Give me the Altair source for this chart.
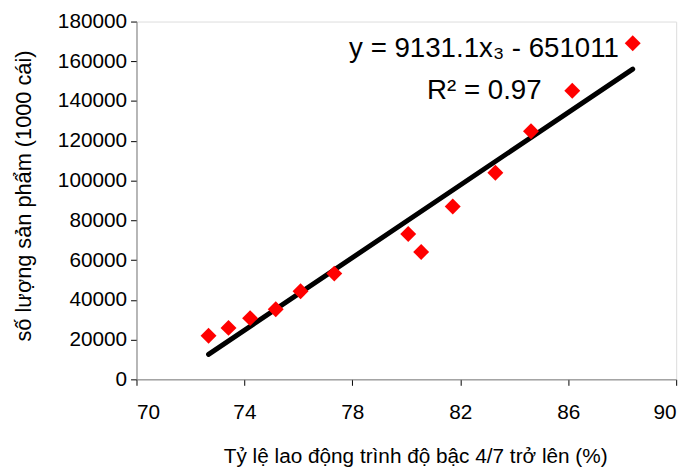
import altair as alt
import pandas as pd

# Data
x_vals = [72.67, 73.41, 74.21, 75.16, 76.08, 77.33, 80.07, 80.55, 81.72, 83.30, 84.62, 86.15, 88.39]
y_vals = [21900, 25900, 30800, 35300, 44300, 53200, 73100, 64100, 87000, 103900, 124800, 145200, 169100]

slope = 9131.1
intercept = -651011
line_x = [min(x_vals), max(x_vals)]

x_ticks = [70, 74, 78, 82, 86, 90]
y_ticks = list(range(0, 180001, 20000))

ann_text = ["y = 9131.1x\u2083 - 651011", "R\u00b2 = 0.97"]
ann_x = [77.88, 80.77]
ann_y = [162100, 141200]

FONT = "Liberation Sans"

pts = pd.DataFrame({"x": x_vals, "y": y_vals})
ln = pd.DataFrame({"x": line_x})
ann = pd.DataFrame({"t": ann_text, "x": ann_x, "y": ann_y})

xscale = alt.Scale(domain=[70, 90], nice=False, zero=False)
yscale = alt.Scale(domain=[0, 180000], nice=False)

common = dict(grid=False, tickSize=6, labelFontSize=21,
              labelFont=FONT, titleFont=FONT, titleFontWeight="normal",
              labelColor="black", titleColor="black",
              domainColor="#808080", tickColor="black")

xaxis = alt.Axis(values=x_ticks, title="Tỷ lệ lao động trình độ bậc 4/7 trở lên (%)",
                 labelPadding=17, titleX=282, titleY=84, titleBaseline="alphabetic",
                 titleAlign="center", titleFontSize=21, **common)
yaxis = alt.Axis(values=y_ticks, title="số lượng sản phẩm (1000 cái)", format="d",
                 labelPadding=4, titleX=-107, titleY=176, titleBaseline="alphabetic",
                 titleAlign="center", titleAngle=270, titleFontSize=22, **common)

points = alt.Chart(pts).mark_point(shape="diamond", filled=True, color="#ff0000",
                                   size=260, opacity=1).encode(
    x=alt.X("x:Q", scale=xscale, axis=xaxis),
    y=alt.Y("y:Q", scale=yscale, axis=yaxis),
)

line = alt.Chart(ln).transform_calculate(
    yy=f"{slope}*datum.x + ({intercept})"
).mark_line(color="black", strokeWidth=5, strokeCap="round").encode(
    x=alt.X("x:Q", scale=xscale),
    y=alt.Y("yy:Q", scale=yscale),
)

labels = alt.Chart(ann).mark_text(align="left", baseline="alphabetic", fontSize=28,
                                  font=FONT, color="black").encode(
    x=alt.X("x:Q", scale=xscale),
    y=alt.Y("y:Q", scale=yscale),
    text="t:N",
)

chart = alt.layer(line, points, labels).properties(
    width=546, height=362,
    autosize=alt.AutoSizeParams(type="none"),
    padding={"left": 130, "top": 11, "right": 14, "bottom": 90},
).configure_view(stroke=None).configure(background="white")

chart.save("out.html", embed_options={"renderer": "svg", "actions": False})
